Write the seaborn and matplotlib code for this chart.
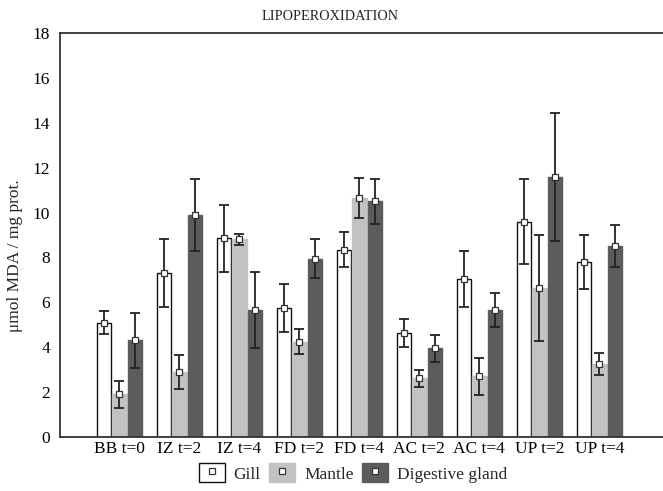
import numpy as np
import pandas as pd
import matplotlib
matplotlib.use("Agg")
import matplotlib.pyplot as plt
import seaborn as sns
from matplotlib.patches import Patch
from matplotlib.lines import Line2D
from matplotlib.legend_handler import HandlerTuple

categories = ["BB t=0", "IZ t=2", "IZ t=4", "FD t=2", "FD t=4",
              "AC t=2", "AC t=4", "UP t=2", "UP t=4"]
tissues = ["Gill", "Mantle", "Digestive gland"]
gill = [5.1, 7.3, 8.85, 5.75, 8.35, 4.65, 7.05, 9.6, 7.8]
gill_err = [0.5, 1.5, 1.5, 1.05, 0.78, 0.62, 1.25, 1.9, 1.22]
mantle = [1.9, 2.9, 8.8, 4.25, 10.65, 2.62, 2.7, 6.65, 3.25]
mantle_err = [0.6, 0.75, 0.25, 0.56, 0.9, 0.38, 0.82, 2.37, 0.5]
digestive = [4.3, 9.9, 5.65, 7.95, 10.5, 3.95, 5.65, 11.6, 8.5]
digestive_err = [1.22, 1.6, 1.68, 0.87, 1.0, 0.6, 0.77, 2.85, 0.93]
yticks = [0, 2, 4, 6, 8, 10, 12, 14, 16, 18]

colors = ["#ffffff", "#c2c2c2", "#5c5c5c"]
edges = ["#111111", "#c2c2c2", "#5c5c5c"]

df = pd.DataFrame({
    "group": categories * 3,
    "tissue": sum([[t] * len(categories) for t in tissues], []),
    "value": gill + mantle + digestive,
    "err": gill_err + mantle_err + digestive_err,
})

sns.set_style("white")
plt.rcParams["font.family"] = ["Liberation Serif", "DejaVu Serif"]

fig = plt.figure(figsize=(6.63, 4.91), dpi=100)
ax = fig.add_axes([60 / 663, 54 / 491, 620 / 663, 404 / 491])

sns.barplot(data=df, x="group", y="value", hue="tissue", order=categories,
            hue_order=tissues, palette=colors, width=0.77, gap=0.06,
            errorbar=None, legend=False, ax=ax, saturation=1)

bar_containers = list(ax.containers)
all_vals = [gill, mantle, digestive]
all_errs = [gill_err, mantle_err, digestive_err]
for k, container in enumerate(bar_containers):
    xs = []
    for patch in container:
        patch.set_edgecolor(edges[k])
        patch.set_linewidth(1.0)
        xs.append(patch.get_x() + patch.get_width() / 2)
    ax.errorbar(xs, all_vals[k], yerr=all_errs[k], fmt="none", ecolor="#222222",
                elinewidth=1.3, capsize=3.5, capthick=1.3, zorder=3)
    ax.plot(xs, all_vals[k], linestyle="none", marker="s", markersize=4,
            markerfacecolor="white", markeredgecolor="#333333",
            markeredgewidth=0.9, zorder=4)

ax.set_ylim(0, 18)
ax.set_yticks(yticks)
ax.set_xlim(-0.99, -0.99 + 620 / 60)
ax.set_xlabel("")
ax.set_ylabel("μmol MDA / mg prot.", fontsize=12.5)
ax.yaxis.set_label_coords(-37 / 620, 0.45)
fig.text(330 / 663, 1 - 17 / 491, "LIPOPEROXIDATION", ha="center", va="center", fontsize=10.3)
ax.tick_params(axis="both", direction="in", length=3, width=0.8,
               labelsize=12.5, colors="#222222", labelcolor="black")
ax.tick_params(axis="x", pad=3)
ax.tick_params(axis="y", pad=7)
for s in ["left", "top", "bottom"]:
    ax.spines[s].set_color("#333333")
    ax.spines[s].set_linewidth(1.3)
ax.spines["right"].set_visible(False)

handles = []
for k in range(3):
    p = Patch(facecolor=colors[k], edgecolor=edges[k] if k else "#111111", linewidth=1.0)
    m = Line2D([], [], linestyle="none", marker="s", markersize=4,
               markerfacecolor="white", markeredgecolor="#333333", markeredgewidth=0.9)
    handles.append((p, m))
fig.legend(handles, tissues, loc="center", bbox_to_anchor=(353 / 663, 1 - 473 / 491),
           ncol=3, frameon=False, fontsize=12.5, handler_map={tuple: HandlerTuple(ndivide=1)},
           handlelength=1.5, handleheight=1.3, columnspacing=0.5, handletextpad=0.5,
           borderpad=0.1)

fig.savefig("out.png", dpi=100)
